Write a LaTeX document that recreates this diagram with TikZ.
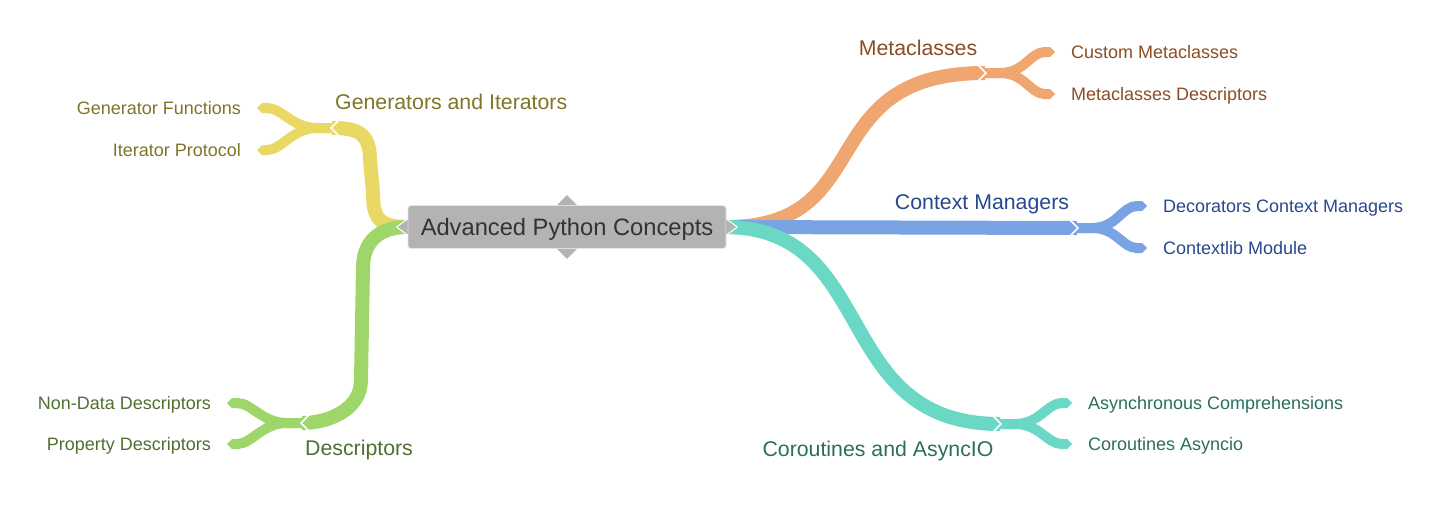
\documentclass[tikz,border=0pt]{standalone}
\usepackage{fontspec}
\setmainfont{Liberation Sans}
\usepackage{xcolor}
\usepackage{tikz}
\usetikzlibrary{arrows.meta,positioning,backgrounds}
\definecolor{rootfill}{RGB}{179,179,179}
\definecolor{roottext}{RGB}{51,51,51}
\definecolor{genfill}{RGB}{234,216,101}
\definecolor{gentext}{RGB}{128,116,40}
\definecolor{desfill}{RGB}{158,214,106}
\definecolor{destext}{RGB}{80,110,50}
\definecolor{metfill}{RGB}{240,166,112}
\definecolor{mettext}{RGB}{140,76,36}
\definecolor{ctxfill}{RGB}{122,163,227}
\definecolor{ctxtext}{RGB}{40,72,140}
\definecolor{corfill}{RGB}{106,216,196}
\definecolor{cortext}{RGB}{42,110,95}

\begin{document}
\begin{tikzpicture}[x=1pt,y=-1pt,
  root/.style={rectangle,rounded corners=3pt,fill=rootfill,draw=white!80!gray,line width=0.8pt,
               text=roottext,minimum width=318pt,minimum height=43pt,text height=17pt,text depth=0pt,
               font=\fontsize{23.7}{28}\selectfont},
  topic/.style={inner sep=0pt,text height=15.3pt,text depth=0pt,font=\fontsize{21.3}{26}\selectfont},
  leaf/.style={inner sep=0pt,outer xsep=16pt,text height=12.9pt,text depth=0pt,
               font=\fontsize{18}{22}\selectfont},
  limb/.style={line width=14pt},
  twig/.style={line width=10pt,-{Triangle Cap[]}},
  notch/.style={white,line width=1.6pt}]
  \useasboundingbox (0,0) rectangle (1442,504);
  \node[root](ap) at (567,227){Advanced Python Concepts};
  % topics
  \node[topic,text=gentext,anchor=west](gi) at (335,102){Generators and Iterators};
  \node[topic,text=destext,anchor=west](ds) at (305,448){Descriptors};
  \node[topic,text=mettext](mc) at (918,48){Metaclasses};
  \node[topic,text=ctxtext](cx) at (982,202){Context Managers};
  \node[topic,text=cortext](co) at (878,449){Coroutines and AsyncIO};
  \coordinate (gij) at (332,128);
  \coordinate (dsj) at (302,423);
  \coordinate (mcj) at (985,73);
  \coordinate (cxj) at (1077,228);
  \coordinate (coj) at (1000,424);
  % leaves
  \node[leaf,text=gentext,anchor=east](gf) at (257,108){Generator Functions};
  \node[leaf,text=gentext,anchor=east](ip) at (257,150){Iterator Protocol};
  \node[leaf,text=destext,anchor=east](nd) at (227,403){Non-Data Descriptors};
  \node[leaf,text=destext,anchor=east](pd) at (227,444){Property Descriptors};
  \node[leaf,text=mettext,anchor=west](cm) at (1055,52){Custom Metaclasses};
  \node[leaf,text=mettext,anchor=west](md) at (1055,94){Metaclasses Descriptors};
  \node[leaf,text=ctxtext,anchor=west](dc) at (1147,206){Decorators Context Managers};
  \node[leaf,text=ctxtext,anchor=west](cl) at (1147,248){Contextlib Module};
  \node[leaf,text=cortext,anchor=west](ac) at (1072,403){Asynchronous Comprehensions};
  \node[leaf,text=cortext,anchor=west](ca) at (1072,444){Coroutines Asyncio};

  \begin{scope}[on background layer]
    \draw[limb,genfill](ap.west) .. controls +(-30,0) and +(0,25) .. (373,192) -- (370,160)
      .. controls +(0,-28) and +(24,0) .. (gij);
    \draw[limb,desfill](ap.west) .. controls +(-30,0) and +(0,-25) .. (363,268) -- (361,380)
      .. controls +(0,30) and +(26,0) .. (dsj);
    \draw[limb,metfill](ap.east) .. controls (880,227) and (810,73) .. (mcj);
    \draw[limb,ctxfill](ap.east) -- (cxj);
    \draw[limb,corfill](ap.east) .. controls (880,229) and (830,424) .. (coj);
    \foreach \j/\l/\c in {gij/gf/genfill,gij/ip/genfill,dsj/nd/desfill,dsj/pd/desfill}
      \draw[twig,\c](\j) -- +(-15,0) .. controls +(-25,0) and +(25,0) .. (\l.east);
    \foreach \j/\l/\c in {mcj/cm/metfill,mcj/md/metfill,cxj/dc/ctxfill,cxj/cl/ctxfill,
                          coj/ac/corfill,coj/ca/corfill}
      \draw[twig,\c](\j) -- +(15,0) .. controls +(25,0) and +(-25,0) .. (\l.west);
    \foreach \j/\s in {gij/1,dsj/1,mcj/-1,cxj/-1,coj/-1}
      \draw[notch]([shift={(7*\s,-8)}]\j) -- ([shift={(-1*\s,0)}]\j) -- ([shift={(7*\s,8)}]\j);
  \end{scope}
  % tips of the root box
  \fill[rootfill]([xshift=-10pt]ap.north) -- ([yshift=10pt]ap.north) -- ([xshift=10pt]ap.north);
  \fill[rootfill]([xshift=-10pt]ap.south) -- ([yshift=-10pt]ap.south) -- ([xshift=10pt]ap.south);
  \path[fill=rootfill,draw=white,line width=1pt]([yshift=8pt]ap.west) -- ([xshift=-11pt]ap.west)
    -- ([yshift=-8pt]ap.west);
  \path[fill=rootfill,draw=white,line width=1pt]([yshift=8pt]ap.east) -- ([xshift=11pt]ap.east)
    -- ([yshift=-8pt]ap.east);
\end{tikzpicture}
\end{document}
